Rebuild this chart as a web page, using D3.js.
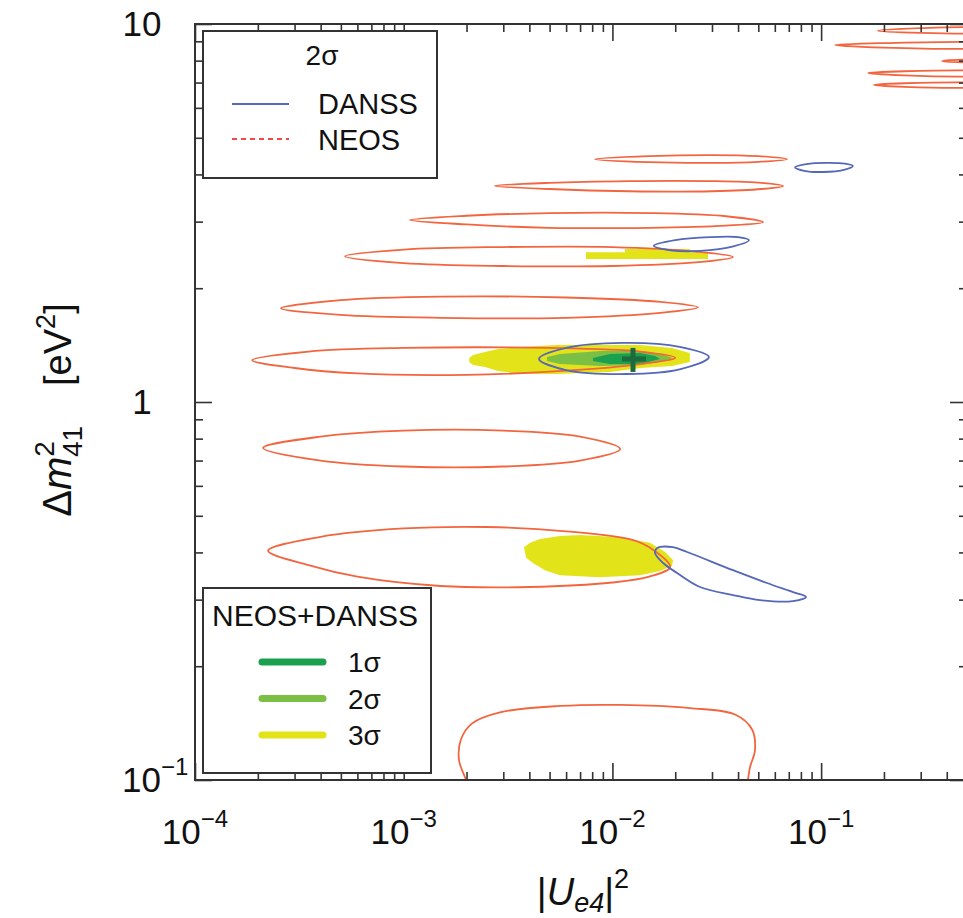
<!DOCTYPE html>
<html>
<head>
<meta charset="utf-8">
<script src="https://cdn.jsdelivr.net/npm/d3@7"></script>
<style>
  body { margin: 0; background: #fff; }
  text { font-family: "Liberation Sans", Arial, sans-serif; fill: #111; }
</style>
</head>
<body>
<svg id="chart" width="963" height="918"></svg>
<script>
// NEOS 2 sigma contours, [|Ue4|^2, dm41^2]
const neosContours = [
  [[8.25e-3, 4.39], [1.5e-2, 4.47], [3e-2, 4.50], [5e-2, 4.47], [6.86e-2, 4.39], [5e-2, 4.32], [3e-2, 4.29], [1.5e-2, 4.31]],
  [[2.74e-3, 3.73], [5e-3, 3.80], [1.2e-2, 3.84], [3e-2, 3.84], [5.2e-2, 3.80], [6.57e-2, 3.73], [5.2e-2, 3.66], [3e-2, 3.61], [1.2e-2, 3.61], [5e-3, 3.66]],
  [[1.07e-3, 3.03], [2e-3, 3.11], [5e-3, 3.16], [1.5e-2, 3.16], [3.5e-2, 3.10], [5.27e-2, 2.99], [3.5e-2, 2.93], [1.5e-2, 2.89], [5e-3, 2.89], [2e-3, 2.95]],
  [[5.23e-4, 2.43], [1e-3, 2.53], [3e-3, 2.57], [1e-2, 2.57], [2.5e-2, 2.50], [3.78e-2, 2.42], [2.5e-2, 2.34], [1e-2, 2.29], [3e-3, 2.29], [1e-3, 2.33]],
  [[2.58e-4, 1.77], [5e-4, 1.86], [1.5e-3, 1.90], [6e-3, 1.89], [1.7e-2, 1.84], [2.57e-2, 1.78], [1.7e-2, 1.72], [6e-3, 1.67], [1.5e-3, 1.67], [5e-4, 1.70]],
  [[1.88e-4, 1.29], [3.5e-4, 1.36], [1e-3, 1.39], [5e-3, 1.39], [1.36e-2, 1.36], [2.0e-2, 1.31], [1.36e-2, 1.26], [6e-3, 1.21], [2e-3, 1.18], [6e-4, 1.19], [3e-4, 1.23]],
  [[2.12e-4, 0.756], [4e-4, 0.81], [1e-3, 0.84], [3e-3, 0.84], [7e-3, 0.81], [1.09e-2, 0.751], [7e-3, 0.70], [3e-3, 0.675], [1e-3, 0.675], [4e-4, 0.70]],
  [[2.24e-4, 0.404], [4e-4, 0.44], [1e-3, 0.463], [2.5e-3, 0.467], [6e-3, 0.455], [1.26e-2, 0.431], [1.57e-2, 0.406], [1.89e-2, 0.366], [1.5e-2, 0.345], [1e-2, 0.333], [4e-3, 0.324], [1.5e-3, 0.326], [6e-4, 0.345], [3.5e-4, 0.37]],
  // cut off at the right edge
  [[0.187, 9.60], [0.3, 9.75], [0.6, 9.8], [0.8, 9.6], [0.6, 9.45], [0.3, 9.47]],
  [[0.1166, 8.80], [0.2, 8.90], [0.6, 8.95], [0.8, 8.78], [0.6, 8.62], [0.2, 8.66]],
  [[0.38, 7.98], [0.5, 8.05], [0.8, 8.0], [0.5, 7.92]],
  [[0.168, 7.42], [0.25, 7.50], [0.6, 7.52], [0.8, 7.40], [0.6, 7.28], [0.25, 7.31]],
  [[0.179, 6.90], [0.25, 6.97], [0.6, 6.99], [0.8, 6.9], [0.6, 6.80], [0.25, 6.82]]
];
// lowest NEOS contour, open below the frame
const neosOpen = [[2.05e-3, 0.095], [1.99e-3, 0.100], [1.84e-3, 0.113], [1.88e-3, 0.128], [2.12e-3, 0.141], [2.89e-3, 0.151], [5.61e-3, 0.157], [1.09e-2, 0.158], [2.35e-2, 0.155], [3.87e-2, 0.149], [4.67e-2, 0.136], [4.82e-2, 0.120], [4.56e-2, 0.108], [4.46e-2, 0.100], [4.4e-2, 0.095]];

// DANSS 2 sigma contours
const danssContours = [
  [[7.50e-2, 4.18], [8.5e-2, 4.26], [0.1067, 4.29], [0.13, 4.27], [0.142, 4.21], [0.13, 4.12], [0.102, 4.06], [8.3e-2, 4.09]],
  [[1.58e-2, 2.59], [2.0e-2, 2.68], [2.94e-2, 2.73], [4.0e-2, 2.73], [4.51e-2, 2.68], [3.8e-2, 2.58], [2.63e-2, 2.51], [1.9e-2, 2.52]],
  [[4.45e-3, 1.30], [6e-3, 1.39], [1.124e-2, 1.433], [2.1e-2, 1.40], [2.90e-2, 1.315], [2.1e-2, 1.22], [1.175e-2, 1.186], [6e-3, 1.215]],
  [[1.60e-2, 0.399], [1.64e-2, 0.411], [1.95e-2, 0.413], [2.28e-2, 0.401], [3.78e-2, 0.359], [5.5e-2, 0.332], [7.33e-2, 0.314], [8.47e-2, 0.305], [7.33e-2, 0.2975], [5.1e-2, 0.299], [3.78e-2, 0.3086], [2.63e-2, 0.324], [2.04e-2, 0.353], [1.75e-2, 0.375]]
];

// NEOS+DANSS allowed regions
const cl3Regions = [
  [[2.06e-3, 1.307], [2.15e-3, 1.331], [2.45e-3, 1.356], [2.83e-3, 1.381], [3.61e-3, 1.398], [5.43e-3, 1.415], [1.36e-2, 1.415], [1.93e-2, 1.39], [2.35e-2, 1.348], [2.35e-2, 1.276], [1.93e-2, 1.245], [1.36e-2, 1.23], [9.74e-3, 1.20], [5.43e-3, 1.186], [3.61e-3, 1.186], [2.83e-3, 1.208], [2.45e-3, 1.238], [2.15e-3, 1.253], [2.06e-3, 1.276]],
  [[3.77e-3, 0.413], [4.03e-3, 0.424], [4.50e-3, 0.434], [5.61e-3, 0.442], [6.99e-3, 0.445], [1.087e-2, 0.439], [1.514e-2, 0.424], [1.786e-2, 0.401], [1.952e-2, 0.382], [1.93e-2, 0.368], [1.69e-2, 0.357], [1.356e-2, 0.348], [8.72e-3, 0.344], [5.61e-3, 0.348], [4.75e-3, 0.359], [4.16e-3, 0.375], [3.86e-3, 0.387]],
  [[7.47e-3, 2.49], [1.149e-2, 2.49], [1.149e-2, 2.54], [2.35e-2, 2.54], [2.35e-2, 2.49], [2.87e-2, 2.49], [2.87e-2, 2.39], [7.47e-3, 2.39]]
];
const cl2Regions = [
  [[4.86e-3, 1.315], [5.61e-3, 1.34], [8.72e-3, 1.364], [1.36e-2, 1.364], [1.69e-2, 1.34], [1.95e-2, 1.307], [1.69e-2, 1.276], [1.36e-2, 1.253], [8.72e-3, 1.245], [5.61e-3, 1.26], [4.86e-3, 1.284]]
];
const cl1Regions = [
  [[8.07e-3, 1.307], [9.74e-3, 1.34], [1.36e-2, 1.348], [1.6e-2, 1.323], [1.69e-2, 1.30], [1.36e-2, 1.26], [9.74e-3, 1.26], [8.07e-3, 1.284]]
];
const bestFit = [1.255e-2, 1.30];

const xLabelExps = [-4, -3, -2, -1];
const yLabelVals = [0.1, 1, 10];
const clLegend = [['1σ', '#1aa04e'], ['2σ', '#7bbf44'], ['3σ', '#e3e31a']];

const svg = d3.select('#chart');
const x = d3.scaleLog().domain([1e-4, 0.5]).range([195, 967]);
const y = d3.scaleLog().domain([0.1, 10]).range([780, 24]);

svg.append('defs').append('clipPath').attr('id', 'plotClip')
    .append('rect').attr('x', 195).attr('y', 24).attr('width', 772).attr('height', 756);

const plot = svg.append('g').attr('clip-path', 'url(#plotClip)');

const fillLine = d3.line().x(d => x(d[0])).y(d => y(d[1])).curve(d3.curveLinearClosed);
const contour = d3.line().x(d => x(d[0])).y(d => y(d[1])).curve(d3.curveCatmullRomClosed.alpha(0.5));
const openLine = d3.line().x(d => x(d[0])).y(d => y(d[1])).curve(d3.curveCatmullRom.alpha(0.5));

plot.selectAll('path.cl3').data(cl3Regions).enter().append('path')
    .attr('class', 'cl3').attr('d', fillLine).attr('fill', '#e3e31a');
plot.selectAll('path.cl2').data(cl2Regions).enter().append('path')
    .attr('class', 'cl2').attr('d', fillLine).attr('fill', '#7bbf44');
plot.selectAll('path.cl1').data(cl1Regions).enter().append('path')
    .attr('class', 'cl1').attr('d', fillLine).attr('fill', '#1aa04e');

plot.selectAll('path.neos').data(neosContours).enter().append('path')
    .attr('class', 'neos').attr('d', contour)
    .attr('fill', 'none').attr('stroke', '#f2653f').attr('stroke-width', 1.8);
plot.append('path').attr('d', openLine(neosOpen))
    .attr('fill', 'none').attr('stroke', '#f2653f').attr('stroke-width', 1.8);

plot.selectAll('path.danss').data(danssContours).enter().append('path')
    .attr('class', 'danss').attr('d', contour)
    .attr('fill', 'none').attr('stroke', '#5467b8').attr('stroke-width', 1.8);

// best fit cross
const bx = x(bestFit[0]), by = y(bestFit[1]);
plot.append('line').attr('x1', bx).attr('x2', bx).attr('y1', by - 11).attr('y2', by + 13)
    .attr('stroke', '#1d6a3b').attr('stroke-width', 5);
plot.append('line').attr('x1', bx - 11).attr('x2', bx + 13).attr('y1', by).attr('y2', by)
    .attr('stroke', '#1d6a3b').attr('stroke-width', 5);

// axes: ticks inward on all four sides
const isMajor = v => Math.abs(Math.log10(v) - Math.round(Math.log10(v))) < 1e-6;

function styleTicks(g, attr, sign) {
    g.select('.domain').remove();
    g.selectAll('.tick line')
        .attr(attr, d => sign * (isMajor(d) ? 17 : 8))
        .attr('stroke', '#333').attr('stroke-width', 1.6);
}
svg.append('g').attr('transform', 'translate(0,780)')
    .call(d3.axisTop(x).tickSize(8).tickFormat(''))
    .call(g => styleTicks(g, 'y2', -1));
svg.append('g').attr('transform', 'translate(0,24)')
    .call(d3.axisBottom(x).tickSize(8).tickFormat(''))
    .call(g => styleTicks(g, 'y2', 1));
svg.append('g').attr('transform', 'translate(195,0)')
    .call(d3.axisRight(y).tickSize(8).tickFormat(''))
    .call(g => styleTicks(g, 'x2', 1));
svg.append('g').attr('transform', 'translate(967,0)')
    .call(d3.axisLeft(y).tickSize(8).tickFormat(''))
    .call(g => styleTicks(g, 'x2', -1));

svg.append('rect').attr('x', 195).attr('y', 24).attr('width', 772).attr('height', 756)
    .attr('fill', 'none').attr('stroke', '#333').attr('stroke-width', 2);

// tick labels
xLabelExps.forEach(e => {
    const t = svg.append('text').attr('x', x(Math.pow(10, e))).attr('y', 844)
        .attr('text-anchor', 'middle').style('font-size', '35px');
    t.append('tspan').text('10');
    t.append('tspan').attr('dy', -17).style('font-size', '24px').text('−' + (-e));
});
yLabelVals.forEach(v => {
    const e = Math.round(Math.log10(v));
    const t = svg.append('text').attr('y', y(v) + 12).style('font-size', '35px');
    if (e < 0) {
        t.attr('x', 122);
        t.append('tspan').text('10');
        t.append('tspan').attr('dy', -17).style('font-size', '24px').text('−' + (-e));
    } else {
        t.attr('x', 142).attr('text-anchor', 'middle').text(String(v));
    }
});

// axis titles
const xt = svg.append('text').attr('x', 583).attr('y', 905).attr('text-anchor', 'middle').style('font-size', '38px');
xt.append('tspan').text('|');
xt.append('tspan').style('font-style', 'italic').text('U');
xt.append('tspan').attr('dy', 7).style('font-size', '27px').style('font-style', 'italic').text('e4');
xt.append('tspan').attr('dy', -7).text('|');
xt.append('tspan').attr('dy', -17).style('font-size', '27px').text('2');

const yt = svg.append('text').attr('transform', 'translate(71,410) rotate(-90)')
    .attr('text-anchor', 'middle').style('font-size', '40px');
yt.append('tspan').text('Δ');
yt.append('tspan').style('font-style', 'italic').text('m');
yt.append('tspan').attr('dy', -17).style('font-size', '28px').text('2');
yt.append('tspan').attr('dx', -16).attr('dy', 28).style('font-size', '28px').text('41');
yt.append('tspan').attr('dx', 40).attr('dy', -11).style('font-size', '38px').text('[eV');
yt.append('tspan').attr('dy', -16).style('font-size', '27px').text('2');
yt.append('tspan').attr('dy', 16).style('font-size', '38px').text(']');

// legend: 2 sigma contours
const lg1 = svg.append('g');
lg1.append('rect').attr('x', 203).attr('y', 31).attr('width', 234).attr('height', 147)
    .attr('fill', '#fff').attr('stroke', '#333').attr('stroke-width', 2);
lg1.append('text').attr('x', 322).attr('y', 65).attr('text-anchor', 'middle').style('font-size', '28px').text('2σ');
lg1.append('line').attr('x1', 232).attr('x2', 289).attr('y1', 104).attr('y2', 104)
    .attr('stroke', '#5467b8').attr('stroke-width', 2);
lg1.append('text').attr('x', 318).attr('y', 114).style('font-size', '29px').text('DANSS');
lg1.append('line').attr('x1', 232).attr('x2', 289).attr('y1', 139).attr('y2', 139)
    .attr('stroke', '#f04848').attr('stroke-width', 2).attr('stroke-dasharray', '5,4');
lg1.append('text').attr('x', 318).attr('y', 150).style('font-size', '29px').text('NEOS');

// legend: combined fit
const lg2 = svg.append('g');
lg2.append('rect').attr('x', 203).attr('y', 588).attr('width', 228).attr('height', 185)
    .attr('fill', '#fff').attr('stroke', '#333').attr('stroke-width', 2);
lg2.append('text').attr('x', 212).attr('y', 626).style('font-size', '30px').text('NEOS+DANSS');
clLegend.forEach((d, i) => {
    const cy = 662 + i * 36.5;
    lg2.append('line').attr('x1', 262).attr('x2', 323).attr('y1', cy).attr('y2', cy)
        .attr('stroke', d[1]).attr('stroke-width', 7).attr('stroke-linecap', 'round');
    lg2.append('text').attr('x', 348).attr('y', cy + 10).style('font-size', '28px').text(d[0]);
});
</script>
</body>
</html>
